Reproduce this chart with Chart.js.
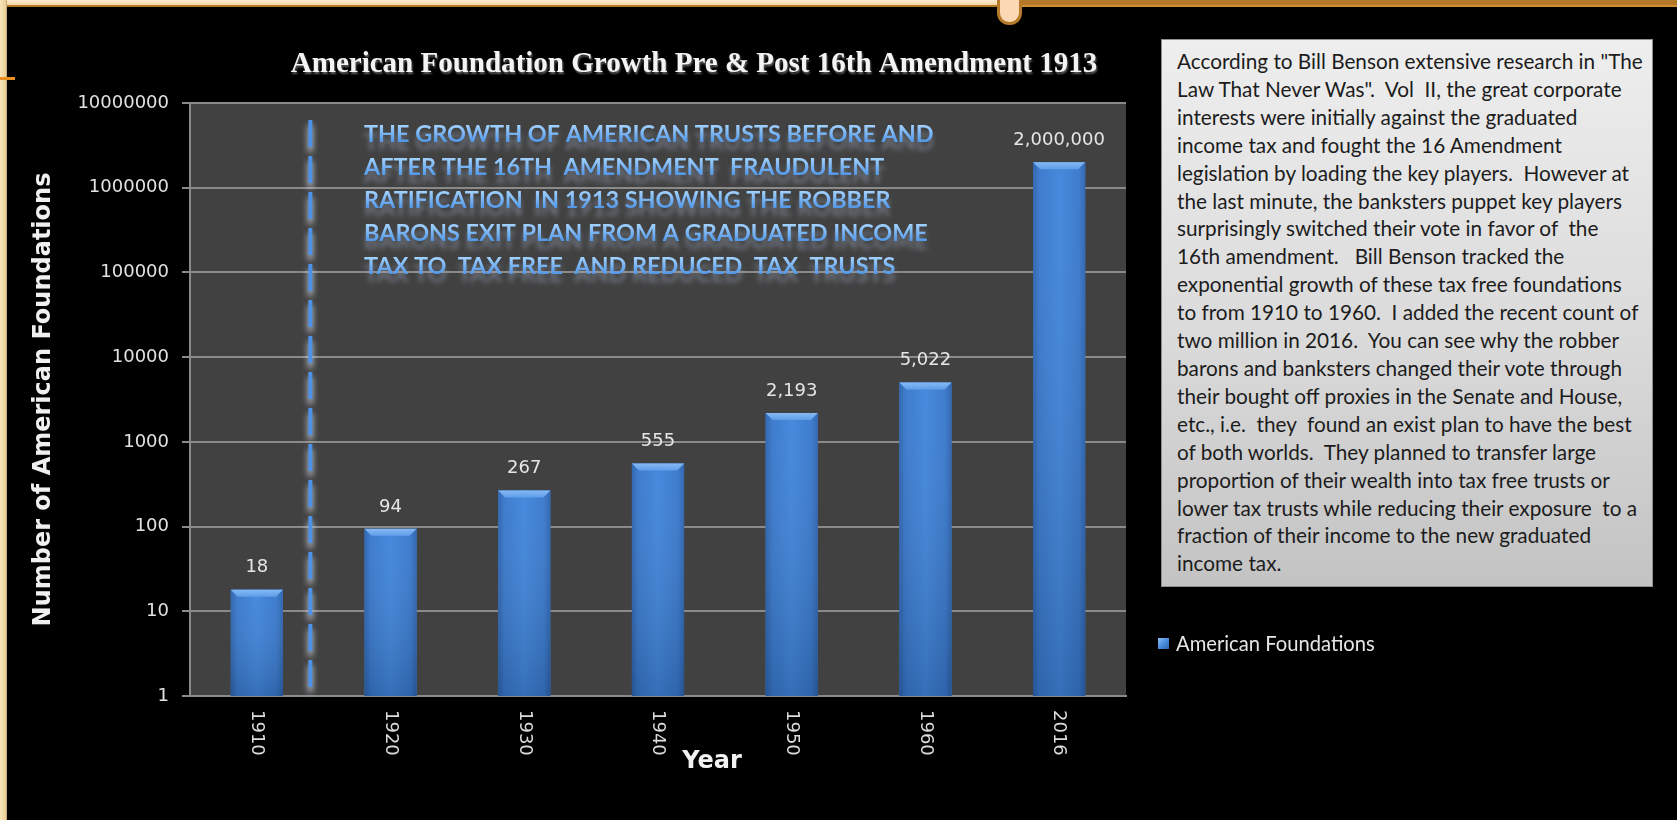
<!DOCTYPE html>
<html>
<head>
<meta charset="utf-8">
<title>American Foundation Growth</title>
<script src="https://cdn.jsdelivr.net/npm/chart.js@4.4.1/dist/chart.umd.min.js"></script>
<style>
  html, body { margin: 0; padding: 0; background: #000; width: 1677px; height: 820px; overflow: hidden; }
  #wrap { position: relative; width: 1677px; height: 820px; }
  #chart { position: absolute; left: 0; top: 0; z-index: 2; }
  .band-l { position: absolute; left: 0; top: 0; width: 999px; height: 5px; background: linear-gradient(#fcebd0, #f3d4a6); border-bottom: 2px solid #b5792a; z-index: 1; }
  .band-r { position: absolute; left: 1020px; top: 0; right: 0; height: 5px; background: #b27828; border-bottom: 2px solid #cf8e32; z-index: 1; }
  .tab { position: absolute; left: 997px; top: 0; width: 19px; height: 22px; background: #fdd8b4; border: 3px solid #b5792a; border-top: none; border-radius: 0 0 12px 12px; z-index: 3; }
  .strip { position: absolute; left: 0; top: 0; width: 6px; height: 820px; background: linear-gradient(90deg, #f8e4b8, #e8cf98); border-right: 1px solid #c9ad74; z-index: 1; }
  .notch { position: absolute; left: 0; top: 77px; width: 15px; height: 3px; background: #ea8f22; z-index: 3; }
  #note {
    position: absolute; left: 1161px; top: 39px; width: 492px; height: 548px; box-sizing: border-box;
    border: 1px solid #8f8f8f;
    background: linear-gradient(#eeeeee, #dadada 55%, #c3c3c3);
    padding: 8px 0 0 15px;
    font-family: Lato, "Open Sans", sans-serif; color: #1c1c1c;
    line-height: 27.9px; white-space: pre; z-index: 2;
  }
</style>
</head>
<body>
<div id="wrap">
  <div class="band-l"></div>
  <div class="band-r"></div>
  <div class="tab"></div>
  <div class="strip"></div>
  <div class="notch"></div>
  <canvas id="chart" width="1677" height="820"></canvas>
  <div id="note">According to Bill Benson extensive research in "The
Law That Never Was".  Vol  II, the great corporate
interests were initially against the graduated
income tax and fought the 16 Amendment
legislation by loading the key players.  However at
the last minute, the banksters puppet key players
surprisingly switched their vote in favor of  the
16th amendment.   Bill Benson tracked the
exponential growth of these tax free foundations
to from 1910 to 1960.  I added the recent count of
two million in 2016.  You can see why the robber
barons and banksters changed their vote through
their bought off proxies in the Senate and House,
etc., i.e.  they  found an exist plan to have the best
of both worlds.  They planned to transfer large
proportion of their wealth into tax free trusts or
lower tax trusts while reducing their exposure  to a
fraction of their income to the new graduated
income tax.</div>
</div>
<script>
// ---- data ----
const years = ['1910', '1920', '1930', '1940', '1950', '1960', '2016'];
const foundations = [18, 94, 267, 555, 2193, 5022, 2000000];
const yTickValues = [1, 10, 100, 1000, 10000, 100000, 1000000, 10000000];

// ---- text ----
const seriesName = 'American Foundations';
const chartTitle = 'American Foundation Growth Pre & Post 16th Amendment 1913';
const yAxisTitle = 'Number of American Foundations';
const xAxisTitle = 'Year';
const calloutLines = [
  'THE GROWTH OF AMERICAN TRUSTS BEFORE AND',
  'AFTER THE 16TH  AMENDMENT  FRAUDULENT',
  'RATIFICATION  IN 1913 SHOWING THE ROBBER',
  'BARONS EXIT PLAN FROM A GRADUATED INCOME',
  'TAX TO  TAX FREE  AND REDUCED  TAX  TRUSTS'
];

// font size that makes `text` span `width` pixels
function fitSize(ctx, text, font, width) {
  ctx.save();
  ctx.font = font.replace('{s}', '100px');
  const w = ctx.measureText(text).width;
  ctx.restore();
  return 100 * width / w;
}

// size the side note so its first line fills the box
(function () {
  const note = document.getElementById('note');
  const c = document.createElement('canvas').getContext('2d');
  const first = note.textContent.split('\n')[0];
  note.style.fontSize = fitSize(c, first, '{s} Lato', 466).toFixed(2) + 'px';
})();

const decor = {
  id: 'decor',
  beforeDraw(chart) {
    const { ctx, chartArea: a } = chart;
    ctx.save();
    ctx.fillStyle = '#414141';
    ctx.fillRect(a.left, a.top, a.right - a.left, a.bottom - a.top);
    ctx.restore();
  },
  afterDatasetsDraw(chart) {
    const { ctx, chartArea: a } = chart;
    const xs = chart.scales.x;
    const meta = chart.getDatasetMeta(0);

    // shaded bar bodies with a bevelled top
    meta.data.forEach((bar) => {
      const { x, y, base, width } = bar.getProps(['x', 'y', 'base', 'width'], true);
      const l = x - width / 2, r = x + width / 2, h = base - y;
      ctx.save();
      const g = ctx.createLinearGradient(l, 0, r, 0);
      g.addColorStop(0, '#2b62ad');
      g.addColorStop(0.12, '#3777cb');
      g.addColorStop(0.5, '#3f85db');
      g.addColorStop(0.88, '#3777cb');
      g.addColorStop(1, '#2b62ad');
      ctx.fillStyle = g;
      ctx.fillRect(l, y, width, h);
      const v = ctx.createLinearGradient(0, y, 0, base);
      v.addColorStop(0, 'rgba(255,255,255,0.04)');
      v.addColorStop(1, 'rgba(0,0,0,0.16)');
      ctx.fillStyle = v;
      ctx.fillRect(l, y, width, h);
      const b = Math.min(7, h / 2);
      const t = ctx.createLinearGradient(0, y, 0, y + b);
      t.addColorStop(0, '#86b9f3');
      t.addColorStop(1, '#5f9ee9');
      ctx.fillStyle = t;
      ctx.beginPath();
      ctx.moveTo(l, y);
      ctx.lineTo(r, y);
      ctx.lineTo(r - b, y + b);
      ctx.lineTo(l + b, y + b);
      ctx.closePath();
      ctx.fill();
      ctx.restore();
    });

    // value labels
    ctx.save();
    ctx.font = '18px "DejaVu Sans"';
    ctx.fillStyle = '#e6e6e6';
    ctx.textAlign = 'center';
    ctx.textBaseline = 'middle';
    meta.data.forEach((bar, i) => {
      const { x, y } = bar.getProps(['x', 'y'], true);
      ctx.fillText(foundations[i].toLocaleString('en-US'), x, y - 22);
    });
    ctx.restore();

    // 1913 ratification marker between the first two categories
    const x0 = xs.getPixelForValue(0), x1 = xs.getPixelForValue(1);
    const mx = x0 + 0.4 * (x1 - x0);
    ctx.save();
    ctx.setLineDash([27, 9]);
    ctx.shadowColor = 'rgba(235,240,255,0.9)';
    ctx.shadowBlur = 6;
    ctx.shadowOffsetY = 5;
    ctx.strokeStyle = '#4d92e6';
    ctx.lineWidth = 4;
    ctx.beginPath();
    ctx.moveTo(mx, a.top + 17);
    ctx.lineTo(mx, a.bottom - 6);
    ctx.stroke();
    ctx.restore();

    // callout text in the plot
    const size = fitSize(ctx, calloutLines[0], 'bold {s} Lato', 570);
    ctx.save();
    ctx.font = `bold ${size}px Lato`;
    ctx.textAlign = 'left';
    ctx.textBaseline = 'middle';
    const cx = a.left + 174;
    calloutLines.forEach((ln, i) => {
      const cy = a.top + 31 + i * 33;
      const g = ctx.createLinearGradient(0, cy - size * 0.4, 0, cy + size * 0.4);
      g.addColorStop(0, '#a4d3ff');
      g.addColorStop(1, '#4a92e6');
      ctx.shadowColor = 'rgba(170,185,210,0.45)';
      ctx.shadowBlur = 5;
      ctx.shadowOffsetY = 8;
      ctx.fillStyle = g;
      ctx.fillText(ln, cx, cy);
    });
    ctx.restore();
  },
  afterDraw(chart) {
    const { ctx, chartArea: a } = chart;
    const xs = chart.scales.x;
    const mid = (a.left + a.right) / 2;

    // title
    const tSize = fitSize(ctx, chartTitle, 'bold {s} "Liberation Serif"', 807);
    ctx.save();
    ctx.font = `bold ${tSize}px "Liberation Serif"`;
    ctx.textAlign = 'center';
    ctx.textBaseline = 'middle';
    ctx.shadowColor = 'rgba(140,140,140,0.7)';
    ctx.shadowOffsetX = 1;
    ctx.shadowOffsetY = 2;
    ctx.shadowBlur = 2;
    ctx.fillStyle = '#f4f4f4';
    ctx.fillText(chartTitle, mid + 36, a.top - 39);
    ctx.restore();

    // category labels, reading downward
    ctx.save();
    ctx.font = '18px "DejaVu Sans"';
    ctx.fillStyle = '#dcdcdc';
    ctx.textAlign = 'left';
    ctx.textBaseline = 'middle';
    years.forEach((yr, i) => {
      ctx.save();
      ctx.translate(xs.getPixelForValue(i), a.bottom + 14);
      ctx.rotate(Math.PI / 2);
      ctx.fillText(yr, 0, 0);
      ctx.restore();
    });
    ctx.restore();

    // x axis title
    ctx.save();
    ctx.font = 'bold 24px "DejaVu Sans"';
    ctx.fillStyle = '#f2f2f2';
    ctx.textAlign = 'center';
    ctx.textBaseline = 'middle';
    ctx.fillText(xAxisTitle, mid + 54, a.bottom + 66);
    ctx.restore();

    // legend
    const ds = chart.data.datasets[0];
    ctx.save();
    const sq = ctx.createLinearGradient(1158, 638, 1169, 649);
    sq.addColorStop(0, '#8fbdf2');
    sq.addColorStop(0.5, '#4a8ee0');
    sq.addColorStop(1, '#2b62ad');
    ctx.fillStyle = sq;
    ctx.fillRect(1158, 638, 11, 11);
    const lSize = fitSize(ctx, ds.label, '{s} Lato', 199);
    ctx.font = `${lSize}px Lato`;
    ctx.fillStyle = '#e6e6e6';
    ctx.textAlign = 'left';
    ctx.textBaseline = 'middle';
    ctx.fillText(ds.label, 1176, 644);
    ctx.restore();
  }
};

new Chart(document.getElementById('chart'), {
  type: 'bar',
  data: {
    labels: years,
    datasets: [{
      label: seriesName,
      data: foundations,
      backgroundColor: '#3b80d6',
      borderWidth: 0,
      categoryPercentage: 1,
      barPercentage: 0.39
    }]
  },
  options: {
    responsive: false,
    animation: false,
    layout: { padding: { left: 0, top: 103, right: 551, bottom: 0 } },
    plugins: { legend: { display: false }, tooltip: { enabled: false } },
    scales: {
      x: {
        type: 'category',
        grid: { display: false },
        border: { display: true, color: '#8a8a8a', width: 2 },
        ticks: { display: false },
        afterFit(s) { s.height = 124; }
      },
      y: {
        type: 'logarithmic',
        min: 1,
        max: 10000000,
        afterBuildTicks(s) { s.ticks = yTickValues.map((v) => ({ value: v })); },
        ticks: {
          color: '#e2e2e2',
          font: { family: 'DejaVu Sans', size: 18 },
          padding: 13,
          autoSkip: false,
          callback: (v) => String(v)
        },
        grid: { color: '#8a8a8a', lineWidth: 2, tickLength: 8, drawTicks: true },
        border: { display: true, color: '#8a8a8a', width: 2 },
        title: {
          display: true,
          text: yAxisTitle,
          color: '#f0f0f0',
          font: { family: 'DejaVu Sans', size: 24, weight: 'bold' },
          padding: { top: 29, bottom: 0 }
        },
        afterFit(s) { s.width = 190; }
      }
    }
  },
  plugins: [decor]
});
</script>
</body>
</html>
